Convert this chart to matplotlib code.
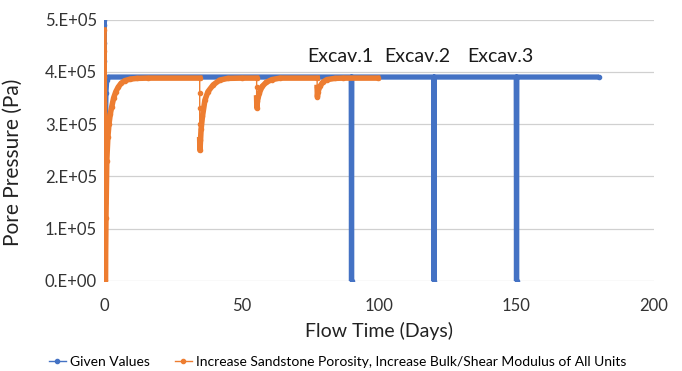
import matplotlib
matplotlib.use("Agg")
import matplotlib.pyplot as plt
import numpy as np

plt.rcParams['font.family'] = ['Lato', 'DejaVu Sans']

# Given Values (blue)
given_t = [0, 0, 0, 0, 0, 0, 0, 0.3, 0.5, 0.7, 1.0, 1.6,
           89.9, 90.0, 90.1, 119.9, 120.0, 120.1,
           149.9, 150.0, 150.1, 180.0]
given_p = [0, 5.0e5, 4.9e5, 4.55e5, 4.2e5, 3.5e5, 1.0e5, 1.5e5, 2.8e5, 3.6e5, 3.85e5, 3.9e5,
           3.9e5, 0, 3.9e5, 3.9e5, 0, 3.9e5,
           3.9e5, 0, 3.9e5, 3.9e5]

# Increase Sandstone Porosity, Increase Bulk/Shear Modulus (orange)
mod_t = [0, 0, 0, 0, 0, 0, 0, 0, 0, 0,
         0.5, 0.7, 1.0, 1.4, 1.8, 2.3, 2.8, 3.5, 4.3, 5.2, 6.2, 7.5, 9.5, 12, 16, 34.8,
         34.8, 34.8, 34.8, 34.8,
         34.9, 35.3, 35.8, 36.7, 37.8, 39.7, 42, 45, 50, 55.5,
         55.5, 55.5,
         55.6, 55.8, 56.5, 57.5, 59, 61, 64, 77.5,
         77.5,
         77.6, 77.8, 78.5, 79.5, 81, 84, 87, 99.5]
mod_p = [0, 0.4e5, 0.9e5, 1.5e5, 2.2e5, 2.8e5, 3.4e5, 3.9e5, 4.4e5, 4.8e5,
         0, 1.2e5, 2.3e5, 2.75e5, 3.0e5, 3.2e5, 3.33e5, 3.5e5, 3.62e5, 3.71e5, 3.78e5, 3.83e5, 3.86e5, 3.875e5, 3.88e5, 3.88e5,
         3.6e5, 3.3e5, 3.0e5, 2.7e5,
         2.5e5, 2.9e5, 3.15e5, 3.46e5, 3.62e5, 3.75e5, 3.84e5, 3.875e5, 3.88e5, 3.88e5,
         3.7e5, 3.5e5,
         3.31e5, 3.45e5, 3.6e5, 3.72e5, 3.8e5, 3.85e5, 3.88e5, 3.88e5,
         3.7e5,
         3.52e5, 3.62e5, 3.72e5, 3.8e5, 3.85e5, 3.875e5, 3.88e5, 3.88e5]

excav_labels = ["Excav.1", "Excav.2", "Excav.3"]
excav_t = [85.8, 114, 144]
excav_p = [4.3e5, 4.3e5, 4.3e5]

x_ticks = [0, 50, 100, 150, 200]
y_ticks = [0, 1e5, 2e5, 3e5, 4e5, 5e5]
y_labels = ["0.E+00", "1.E+05", "2.E+05", "3.E+05", "4.E+05", "5.E+05"]

blue = "#4472C4"
orange = "#ED7D31"


def thick_path(t, p):
    # break the heavy trace where time stands still (vertical jumps)
    t = np.asarray(t, float)
    p = np.asarray(p, float)
    tt, pp = [t[0]], [p[0]]
    for i in range(1, len(t)):
        if t[i] == t[i - 1]:
            tt.append(np.nan)
            pp.append(np.nan)
        tt.append(t[i])
        pp.append(p[i])
    return tt, pp


fig = plt.figure(figsize=(6.82, 3.71), dpi=100)
ax = fig.add_axes([0.1525, 0.2426, 0.8065, 0.7048])

# blue
ax.plot(given_t, given_p, color=blue, lw=3.8, solid_capstyle='butt', zorder=3)
ax.plot(given_t, given_p, color=blue, lw=1.0, marker='o', ms=3, zorder=3,
        label="Given Values")

# orange
tt, pp = thick_path(mod_t, mod_p)
ax.plot(tt, pp, color=orange, lw=4.0, zorder=4)
ax.plot(mod_t, mod_p, color=orange, lw=1.0, marker='o', ms=3, zorder=4,
        label="Increase Sandstone Porosity, Increase Bulk/Shear Modulus of All Units")

for lab, t, p in zip(excav_labels, excav_t, excav_p):
    ax.text(t, p, lab, fontsize=14, ha='center', va='center', color='#1a1a1a')

ax.set_xlim(0, 200)
ax.set_ylim(0, 5e5)
ax.set_xticks(x_ticks)
ax.set_xticklabels([str(v) for v in x_ticks], fontsize=12, color='#333333')
ax.set_yticks(y_ticks)
ax.set_yticklabels(y_labels, fontsize=12, color='#333333')
ax.tick_params(axis='y', length=0, pad=5)
ax.tick_params(axis='x', length=0, pad=12)
ax.grid(axis='y', color='#d0d0d0', lw=0.9, zorder=0)
for side in ["left", "top", "bottom", "right"]:
    ax.spines[side].set_visible(False)

ax.set_xlabel("Flow Time (Days)", fontsize=14, color='#222222', labelpad=6)
ax.set_ylabel("Pore Pressure (Pa)", fontsize=15, color='#222222')
ax.yaxis.set_label_coords(-0.147, 0.455)

handles, labels = ax.get_legend_handles_labels()
fig.legend(handles, labels, loc='lower center', bbox_to_anchor=(0.495, -0.025),
           ncol=2, frameon=False, fontsize=10, handlelength=1.2,
           columnspacing=1.8, handletextpad=0.3)

fig.savefig("out.png", dpi=100)
